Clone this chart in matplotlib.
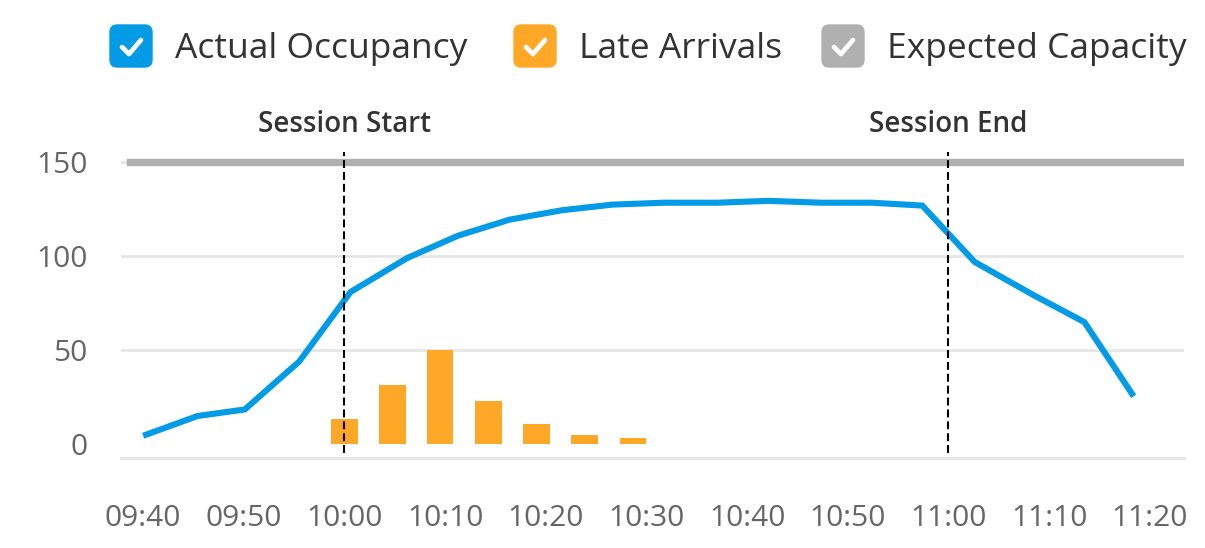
import matplotlib.pyplot as plt
from matplotlib.patches import FancyBboxPatch
from matplotlib.lines import Line2D
from matplotlib.transforms import blended_transform_factory

# minutes after 09:40
occ_minutes = [0, 5.4, 10.1, 15.5, 20.6, 26.2, 31.3, 36.4, 41.6, 46.6,
               51.7, 57.0, 62.1, 67.4, 72.4, 77.4, 82.6, 88.4, 93.5, 98.4]
occupancy = [4.5, 15, 18.5, 44, 81, 99, 111, 119.5, 124.5, 127.5,
             128.5, 128.5, 129.5, 128.5, 128.5, 127, 97, 79.5, 65, 25.5]

late_minutes = [20, 24.75, 29.5, 34.3, 39.1, 43.85, 48.65]
late_arrivals = [13.5, 31.5, 50, 23, 10.5, 5, 3.5]

capacity = 150
sessions = [(20, 'Session Start'), (80, 'Session End')]

tick_minutes = [0, 10, 20, 30, 40, 50, 60, 70, 80, 90, 100]
tick_labels = ['09:40', '09:50', '10:00', '10:10', '10:20', '10:30',
               '10:40', '10:50', '11:00', '11:10', '11:20']
y_ticks = [0, 50, 100, 150]

series = ['Actual Occupancy', 'Late Arrivals', 'Expected Capacity']
colors = ['#039be5', '#ffa726', '#b0b0b0']

plt.rcParams['font.family'] = ['Open Sans', 'DejaVu Sans']

W, H = 1205, 548
fig = plt.figure(figsize=(W / 100, H / 100), dpi=100)
ax = fig.add_axes([121 / W, 1 - 458.3 / H, 1063 / W, 306.3 / H])

ax.bar(late_minutes, late_arrivals, width=2.65, color=colors[1], zorder=2)
ax.plot(occ_minutes, occupancy, color=colors[0], lw=4.4,
        solid_capstyle='butt', solid_joinstyle='miter', zorder=3)
ax.axhline(capacity, xmin=9 / 1063, color=colors[2], lw=5.3, zorder=2)

for m, label in sessions:
    ax.axvline(m, ymin=0.017, ymax=1, color='black', lw=1.5,
               dashes=(3.8, 1.9), zorder=4)
    trans = blended_transform_factory(ax.transData, fig.transFigure)
    ax.text(m, 1 - 125 / H, label, transform=trans, ha='center', va='center',
            fontsize=20, fontweight='semibold', color='#333333')

ax.set_xlim(-2.2, 103.4)
ax.set_ylim(-7.5, 155.5)
ax.set_xticks(tick_minutes, tick_labels)
ax.set_yticks(y_ticks)
ax.tick_params(length=0, labelsize=21.5, labelcolor='#666666')
ax.tick_params(axis='x', pad=33)
ax.tick_params(axis='y', pad=24)

ax.yaxis.grid(True, color='#e6e6e6', lw=2)
ax.yaxis.get_gridlines()[0].set_visible(False)
ax.set_axisbelow(True)
for s in ['top', 'right', 'left']:
    ax.spines[s].set_visible(False)
ax.spines['bottom'].set_color('#e6e6e6')
ax.spines['bottom'].set_linewidth(2)

# legend with check boxes
box_x = [110, 514, 822]
for bx, name, c in zip(box_x, series, colors):
    x0, y0 = bx / W, 1 - 67 / H
    fig.add_artist(FancyBboxPatch((x0, y0), 42 / W, 42 / H,
                                  boxstyle='round,pad=0,rounding_size=0.006',
                                  transform=fig.transFigure, color=c,
                                  mutation_aspect=W / H))
    cx = [bx + 12, bx + 19, bx + 31]
    cy = [47, 54, 40]
    fig.add_artist(Line2D([v / W for v in cx], [1 - v / H for v in cy],
                          transform=fig.transFigure, color='white', lw=3.4,
                          solid_capstyle='round', solid_joinstyle='round'))
    fig.text((bx + 65) / W, 1 - 49 / H, name, ha='left', va='center',
             fontsize=25.5, color='#333333')

fig.savefig('out.png', dpi=100)
